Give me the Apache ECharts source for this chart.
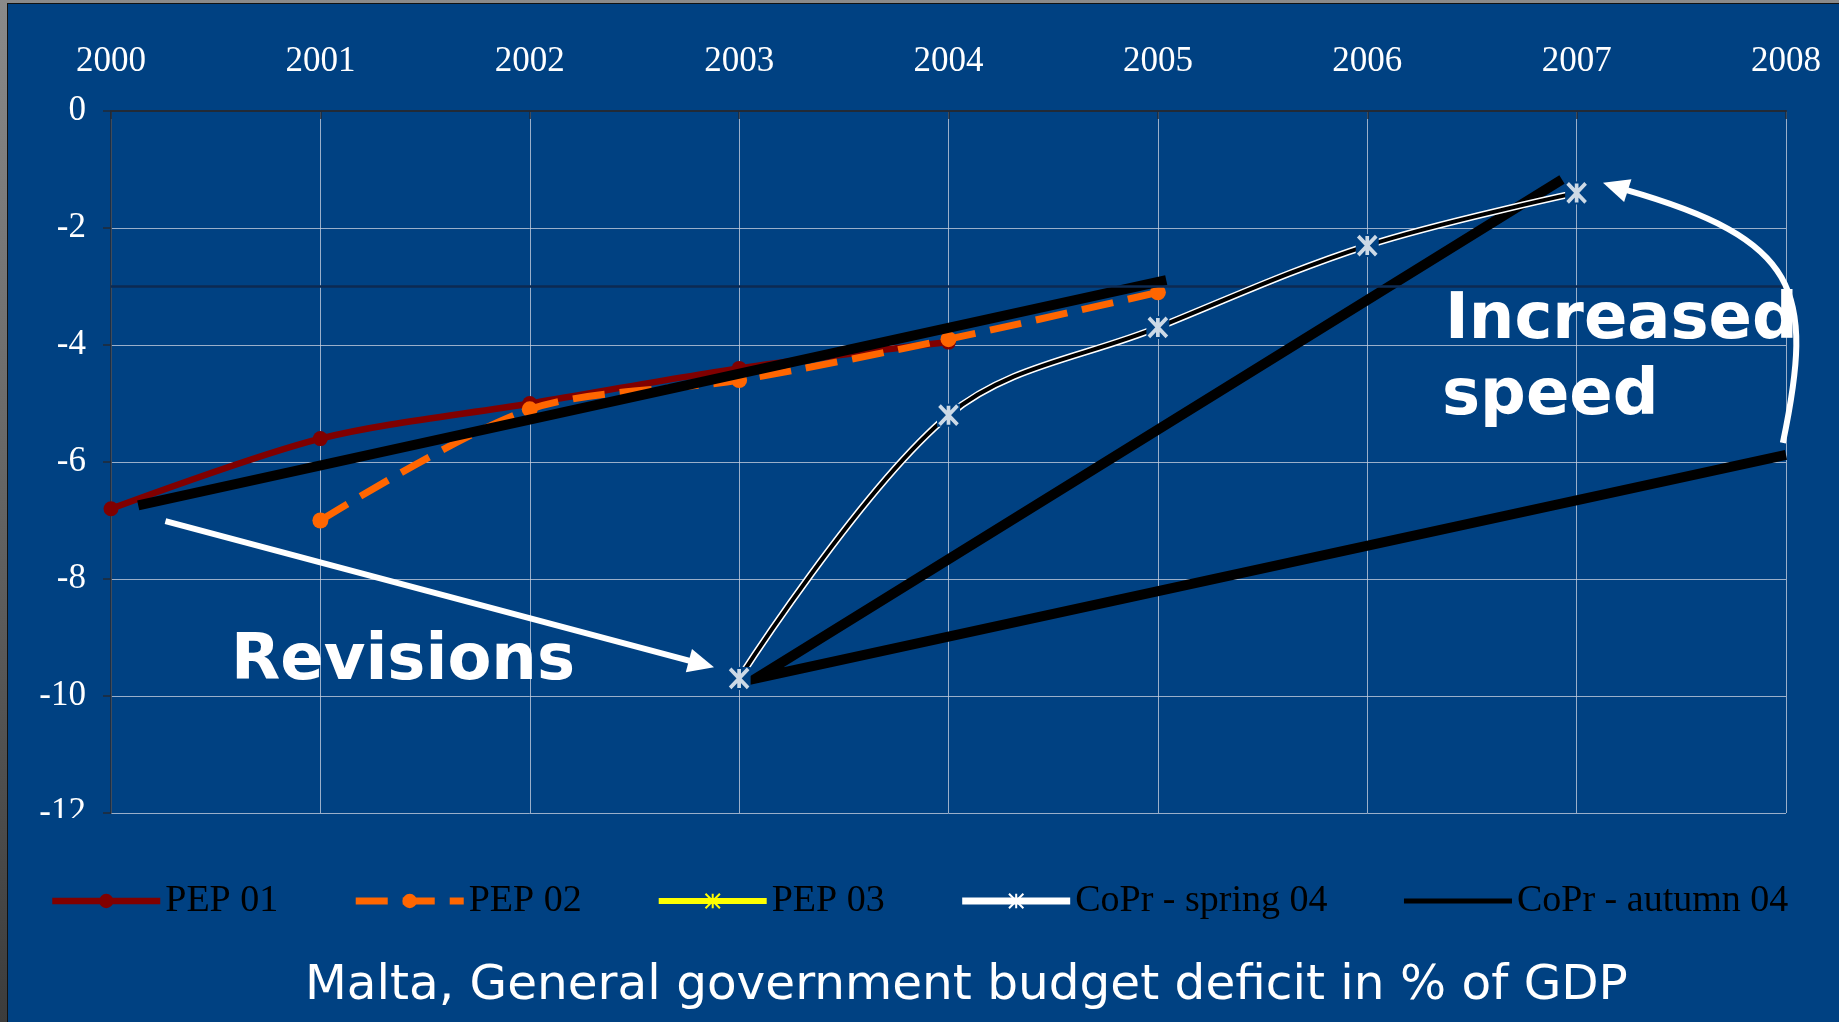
<!DOCTYPE html>
<html>
<head>
<meta charset="utf-8">
<script src="https://cdn.jsdelivr.net/npm/echarts@6/dist/echarts.min.js"></script>
<style>
  html, body { margin: 0; padding: 0; width: 1839px; height: 1022px; overflow: hidden;
    background: linear-gradient(#8a8a8a, #3c3c3c); }
  #panel { position: absolute; left: 7px; top: 3px; right: 0; bottom: 0; background: #004182;
    border-left: 1px solid #111; border-top: 1px solid #111; }
  #chart { position: absolute; left: 0; top: 0; width: 1839px; height: 1022px; }
</style>
</head>
<body>
<div id="panel"></div>
<div id="chart"></div>
<script>
// Malta, general government balance (% of GDP): programme vintages and Commission projections
const years = [2000, 2001, 2002, 2003, 2004, 2005, 2006, 2007, 2008];
const yMin = -12, yMax = 0, yStep = 2;

const pep01Years = [2000, 2001, 2002, 2003, 2004];
const pep01Values = [-6.8, -5.6, -5.0, -4.4, -3.95];

const pep02Years = [2001, 2002, 2003, 2004, 2005];
const pep02Values = [-7.0, -5.1, -4.6, -3.9, -3.1];

const pep03Years = [];
const pep03Values = [];

const springYears = [2003, 2004, 2005, 2006, 2007];
const springValues = [-9.7, -5.2, -3.7, -2.3, -1.4];

// Autumn 04 projection paths (null breaks the line between the two paths)
const autumnX = [2000.13, 2005.04, null, 2006.93, 2003.08, 2008];
const autumnY = [-6.74, -2.89, null, -1.17, -9.7, -5.88];

// Deficit reference value
const criterionLevel = -3;

// Arrow anchors in axis units
const revisionArrowFrom = [2000.26, -7.01];
const revisionArrowTip = [2002.88, -9.51];
const speedArrowCurve = [[2007.985, -5.674], [2008.138, -3.056], [2008.067, -2.2], [2007.231, -1.345]];
const speedArrowTip = [2007.126, -1.225];

const BG = '#004182';
const ASTERISK = 'path://M0,0L16,17M16,0L0,17M8,0L8,17';
const pair = (xs, ys) => xs.map((x, i) => [x, ys[i]]);
const springData = pair(springYears, springValues);

const chart = echarts.init(document.getElementById('chart'), null, { renderer: 'canvas' });

const serif = '"Liberation Serif", "Times New Roman", serif';
const axisDark = '#222a36';
const gridColor = 'rgba(205,212,225,0.75)';

const option = {
  animation: false,
  grid: { left: 111, right: 53, top: 111, bottom: 209, containLabel: false },
  xAxis: {
    type: 'value', position: 'top', min: years[0], max: years[years.length - 1], interval: 1,
    axisLine: { show: true, onZero: false, lineStyle: { color: axisDark, width: 2 } },
    axisTick: { show: true, inside: true, length: 8, lineStyle: { color: axisDark, width: 1.5 } },
    axisLabel: { color: '#fff', fontFamily: serif, fontSize: 35, margin: 32, formatter: v => String(v) },
    splitLine: { show: true, lineStyle: { color: gridColor, width: 1 } }
  },
  yAxis: {
    type: 'value', min: yMin, max: yMax, interval: yStep,
    axisLine: { show: true, onZero: false, lineStyle: { color: axisDark, width: 1.5 } },
    axisTick: { show: true, length: 8, lineStyle: { color: axisDark, width: 1.5 } },
    axisLabel: { color: '#fff', fontFamily: serif, fontSize: 35, margin: 25 },
    splitLine: { show: true, lineStyle: { color: gridColor, width: 1 } }
  },
  legend: {
    data: [
      { name: 'PEP 01' },
      { name: 'PEP 02' },
      { name: 'PEP 03' },
      { name: 'CoPr - spring 04' },
      { name: 'CoPr - autumn 04', lineStyle: { width: 5 }, itemStyle: { color: 'rgba(0,0,0,0)', borderWidth: 0 } }
    ],
    left: 44, top: 877, itemWidth: 108, itemHeight: 18, itemGap: 74,
    selectedMode: false,
    lineStyle: { width: 'inherit' },
    textStyle: { color: '#000', fontFamily: serif, fontSize: 38 }
  },
  series: [
    {
      name: 'PEP 01', type: 'line', data: pair(pep01Years, pep01Values), smooth: 0.3,
      symbol: 'circle', symbolSize: 15, z: 2, silent: true,
      lineStyle: { color: '#800000', width: 6.5 }, itemStyle: { color: '#800000' },
      markLine: {
        silent: true, symbol: 'none', label: { show: false },
        lineStyle: { color: '#0c2a52', width: 2.5, type: 'solid' },
        data: [{ yAxis: criterionLevel }]
      }
    },
    {
      name: 'PEP 02', type: 'line', data: pair(pep02Years, pep02Values), smooth: 0.3,
      symbol: 'circle', symbolSize: 16, z: 3, silent: true,
      lineStyle: { color: '#ff6600', width: 7, type: [32, 15] }, itemStyle: { color: '#ff6600' }
    },
    {
      name: 'PEP 03', type: 'line', data: pair(pep03Years, pep03Values),
      symbol: ASTERISK, symbolSize: [14, 15], z: 3, silent: true,
      lineStyle: { color: '#ffff00', width: 6 },
      itemStyle: { color: '#ffff00', borderColor: '#ffff00', borderWidth: 3 }
    },
    {
      name: 'CoPr - autumn 04', type: 'line', data: pair(autumnX, autumnY), connectNulls: false,
      symbol: 'none', z: 4, silent: true,
      lineStyle: { color: '#000', width: 10, join: 'miter', cap: 'butt' }, itemStyle: { color: '#000' }
    },
    {
      // white casing of the spring projection
      name: 'CoPr - spring 04', type: 'line', data: springData, smooth: 0.35,
      symbol: ASTERISK, symbolSize: [16, 17], z: 5, silent: true,
      lineStyle: { color: '#fff', width: 7 },
      itemStyle: { color: '#fff', borderColor: '#fff', borderWidth: 3.5 }
    },
    {
      // black core; square symbols open a gap in the line round each marker
      name: 'CoPr - spring 04', type: 'line', data: springData, smooth: 0.35,
      symbol: 'rect', symbolSize: 23, z: 6, silent: true,
      lineStyle: { color: '#000', width: 4 }, itemStyle: { color: BG }
    },
    {
      name: 'CoPr - spring 04', type: 'scatter', data: springData,
      symbol: ASTERISK, symbolSize: [18, 19], z: 7, silent: true,
      itemStyle: { color: '#fff', borderColor: '#fff', borderWidth: 3.8 }
    }
  ]
};

chart.setOption(option);

// ---- annotations: arrows and captions ----
const px = p => chart.convertToPixel({ gridIndex: 0 }, p);

function arrowHead(tip, from, len, wid) {
  const dx = tip[0] - from[0], dy = tip[1] - from[1];
  const d = Math.hypot(dx, dy), ux = dx / d, uy = dy / d;
  const bx = tip[0] - ux * len, by = tip[1] - uy * len;
  const nx = -uy, ny = ux;
  return {
    base: [bx + ux * 2, by + uy * 2],
    points: [tip, [bx + nx * wid / 2, by + ny * wid / 2], [bx - nx * wid / 2, by - ny * wid / 2]]
  };
}

const aFrom = px(revisionArrowFrom), aTip = px(revisionArrowTip);
const aHead = arrowHead(aTip, aFrom, 26, 24);

const c = speedArrowCurve.map(px), cTip = px(speedArrowTip);
const cHead = arrowHead(cTip, c[3], 26, 24);

const white = '#ffffff';
const boldFont = 'bold 64px "DejaVu Sans", Verdana, sans-serif';

chart.setOption({
  graphic: [
    {
      type: 'line', z: 50, silent: true,
      shape: { x1: aFrom[0], y1: aFrom[1], x2: aHead.base[0], y2: aHead.base[1] },
      style: { stroke: white, lineWidth: 6 }
    },
    { type: 'polygon', z: 50, silent: true, shape: { points: aHead.points }, style: { fill: white } },
    {
      type: 'bezierCurve', z: 50, silent: true,
      shape: { x1: c[0][0], y1: c[0][1], cpx1: c[1][0], cpy1: c[1][1], cpx2: c[2][0], cpy2: c[2][1], x2: c[3][0], y2: c[3][1] },
      style: { stroke: white, lineWidth: 6, fill: null }
    },
    { type: 'polygon', z: 50, silent: true, shape: { points: cHead.points }, style: { fill: white } },
    {
      type: 'text', z: 50, silent: true, x: 231, y: 662,
      style: { text: 'Revisions', font: boldFont, fill: white, verticalAlign: 'middle' }
    },
    {
      type: 'text', z: 50, silent: true, x: 1445, y: 321,
      style: { text: 'Increased', font: boldFont, fill: white, verticalAlign: 'middle' }
    },
    {
      type: 'text', z: 50, silent: true, x: 1442, y: 397,
      style: { text: 'speed', font: boldFont, fill: white, verticalAlign: 'middle' }
    },
    {
      // the chart frame ends just below the lowest tick label
      type: 'rect', z: 60, silent: true,
      shape: { x: 8, y: 818, width: 100, height: 30 },
      style: { fill: BG }
    },
    {
      type: 'text', z: 50, silent: true, x: 305, y: 986,
      style: {
        text: 'Malta, General government budget deficit in % of GDP',
        font: '48.5px "DejaVu Sans", Verdana, sans-serif', fill: white, verticalAlign: 'middle'
      }
    }
  ]
});
</script>
</body>
</html>
